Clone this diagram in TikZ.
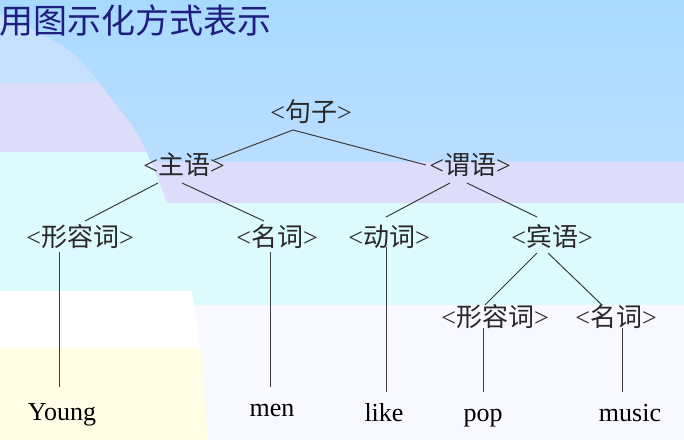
\documentclass[tikz,border=0pt]{standalone}
\usepackage{fontspec}
\setmainfont{Liberation Serif}
\newfontfamily\cjk{Noto Sans CJK SC}
\usetikzlibrary{calc}

\definecolor{skytop}{RGB}{168,218,255}
\definecolor{skylow}{RGB}{186,222,255}
\definecolor{panelblue}{RGB}{198,224,255}
\definecolor{lavender}{RGB}{221,221,251}
\definecolor{paleaqua}{RGB}{221,250,255}
\definecolor{paper}{RGB}{248,249,255}
\definecolor{cream}{RGB}{255,253,228}
\definecolor{navy}{RGB}{30,30,128}
\definecolor{labelgray}{RGB}{40,40,40}
\definecolor{linegray}{RGB}{60,60,60}

\newcommand{\gcat}[1]{<{\cjk #1}>}

\begin{document}
\begin{tikzpicture}[
    x=1pt, y=-1pt,
    catnode/.style={anchor=base, inner sep=0pt, font=\fontsize{26}{26}\selectfont, text=labelgray},
    leaf/.style={anchor=base, inner sep=0pt, font=\fontsize{26}{26}\selectfont, text=black},
    branch/.style={draw=linegray, line width=1pt},
]
\useasboundingbox (0,0) rectangle (684,440);

% Background bands
\shade[top color=skytop, bottom color=skylow] (0,0) rectangle (684,162);
\fill[lavender] (0,162) rectangle (684,203);
\fill[paleaqua] (0,203) rectangle (684,305);
\fill[paper] (0,305) rectangle (684,440);

% Left panel
\begin{scope}
\clip plot[smooth] coordinates {(0,14) (40,33) (77,57) (110,97) (135,130) (150,160) (167,203) (182,250) (192,291) (200,348) (208,440)} -- (0,440) -- cycle;
\fill[panelblue] (0,0) rectangle (220,83);
\fill[lavender] (0,83) rectangle (220,152);
\fill[paleaqua] (0,152) rectangle (220,291);
\fill[white] (0,291) rectangle (220,348);
\fill[cream] (0,348) rectangle (220,440);
\end{scope}

% Title
\node[anchor=base west, inner sep=0pt, font=\fontsize{34}{34}\selectfont\cjk, text=navy] (title) at (-1,33) {用图示化方式表示};

% Tree: categories
\node[catnode] (s) at (311,121) {\gcat{句子}};
\node[catnode] (zhu) at (184,174) {\gcat{主语}};
\node[catnode] (wei) at (470,174) {\gcat{谓语}};
\node[catnode] (adja) at (80,246) {\gcat{形容词}};
\node[catnode] (nouna) at (277,246) {\gcat{名词}};
\node[catnode] (verb) at (389,246) {\gcat{动词}};
\node[catnode] (obj) at (552,246) {\gcat{宾语}};
\node[catnode] (adjb) at (495,326) {\gcat{形容词}};
\node[catnode] (nounb) at (616,326) {\gcat{名词}};

% Tree: words
\node[leaf] (young) at (62,420) {Young};
\node[leaf] (men) at (272,416) {men};
\node[leaf] (like) at (384,421) {like};
\node[leaf] (pop) at (483,421) {pop};
\node[leaf] (music) at (630,421) {music};

% Branches
\draw[branch] ($(s.base)+(-18,9)$) -- ($(zhu.base)+(30,-14)$);
\draw[branch] ($(s.base)+(-18,9)$) -- ($(wei.base)+(-44,-9)$);
\draw[branch] ($(zhu.base)+(-26,9)$) -- ($(adja.base)+(5,-25)$);
\draw[branch] ($(zhu.base)+(-2,9)$) -- ($(nouna.base)+(-13,-25)$);
\draw[branch] ($(wei.base)+(-20,9)$) -- ($(verb.base)+(-3,-29)$);
\draw[branch] ($(wei.base)+(-3,9)$) -- ($(obj.base)+(-15,-29)$);
\draw[branch] ($(obj.base)+(-15,7)$) -- ($(adjb.base)+(-10,-21)$);
\draw[branch] ($(obj.base)+(-4,7)$) -- ($(nounb.base)+(-14,-21)$);

% Stems to words
\draw[branch] ($(adja.base)+(-21,6)$) -- ($(young.base)+(-3,-33)$);
\draw[branch] ($(nouna.base)+(-7,6)$) -- ($(men.base)+(-2,-29)$);
\draw[branch] ($(verb.base)+(-3,1)$) -- ($(like.base)+(2,-29)$);
\draw[branch] ($(adjb.base)+(-12,2)$) -- ($(pop.base)+(0,-29)$);
\draw[branch] ($(nounb.base)+(6,2)$) -- ($(music.base)+(-8,-29)$);

\end{tikzpicture}
\end{document}
